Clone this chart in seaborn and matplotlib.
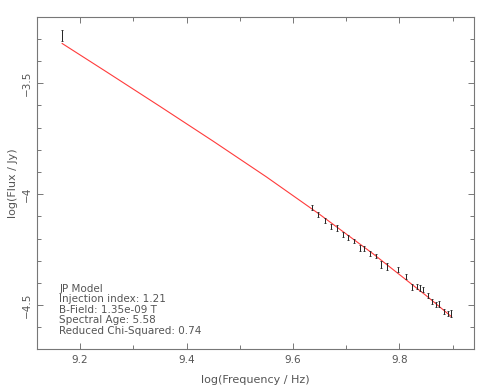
import matplotlib
matplotlib.use("Agg")
import matplotlib.pyplot as plt
import seaborn as sns
import pandas as pd
from matplotlib.ticker import MultipleLocator

# Data
obs_logfreq = [9.166, 9.636, 9.647, 9.660, 9.671, 9.683, 9.694, 9.704, 9.715, 9.725,
               9.734, 9.745, 9.756, 9.765, 9.776, 9.798, 9.813, 9.824, 9.833, 9.839,
               9.844, 9.853, 9.861, 9.869, 9.875, 9.883, 9.891, 9.897]
obs_logflux = [-3.285, -4.060, -4.093, -4.119, -4.146, -4.153, -4.182, -4.195, -4.212, -4.243,
               -4.245, -4.266, -4.279, -4.317, -4.326, -4.341, -4.372, -4.419, -4.416, -4.423,
               -4.430, -4.457, -4.484, -4.496, -4.496, -4.529, -4.538, -4.539]
obs_err = [0.024, 0.011, 0.012, 0.011, 0.011, 0.012, 0.013, 0.011, 0.010, 0.013,
           0.013, 0.011, 0.009, 0.015, 0.015, 0.011, 0.011, 0.015, 0.012, 0.015,
           0.013, 0.011, 0.012, 0.011, 0.013, 0.011, 0.013, 0.015]

model_logfreq = [9.166, 9.25, 9.35, 9.45, 9.55, 9.65, 9.75, 9.85, 9.898]
model_logflux = [-3.320, -3.449, -3.604, -3.761, -3.922, -4.091, -4.268, -4.457, -4.553]

info_lines = ["JP Model", "Injection index: 1.21", "B-Field: 1.35e-09 T",
              "Spectral Age: 5.58", "Reduced Chi-Squared: 0.74"]

sns.set_theme(style="white")
plt.rcParams['font.family'] = ['DejaVu Sans']

fig = plt.figure(figsize=(4.81, 3.91), dpi=100)
ax = fig.add_axes([37/481, 1-349/391, (474-37)/481, (349-17)/391])

model_df = pd.DataFrame({"x": model_logfreq, "y": model_logflux})
sns.lineplot(data=model_df, x="x", y="y", ax=ax, color="#ff3b3b", linewidth=0.8)

ax.errorbar(obs_logfreq, obs_logflux, yerr=obs_err, fmt="none", ecolor="#222222",
            elinewidth=0.7, capsize=1.0, capthick=0.6)

ax.set_xlim(9.119, 9.940)
ax.set_ylim(-4.698, -3.201)

text_col = "#555555"
frame_col = "#777777"
ax.xaxis.set_major_locator(MultipleLocator(0.2))
ax.xaxis.set_minor_locator(MultipleLocator(0.1))
ax.yaxis.set_major_locator(MultipleLocator(0.5))
ax.yaxis.set_minor_locator(MultipleLocator(0.1))
ax.tick_params(which="both", direction="in", top=True, right=True, left=True, bottom=True,
               color=frame_col, labelcolor=text_col, labelsize=7.5)
ax.tick_params(which="major", length=4, width=0.7)
ax.tick_params(which="minor", length=3, width=0.7)
ax.tick_params(axis="x", pad=4.5)
ax.set_yticks([-4.5, -4.0, -3.5])
ax.set_yticklabels(["\u22124.5", "\u22124", "\u22123.5"], rotation=90, va="center")
ax.set_xticks([9.2, 9.4, 9.6, 9.8])
ax.set_xticklabels(["9.2", "9.4", "9.6", "9.8"])

for sp in ax.spines.values():
    sp.set_color(frame_col)
    sp.set_linewidth(0.8)

ax.set_xlabel("log(Frequency / Hz)", fontsize=8, color=text_col, labelpad=7)
ax.set_ylabel("log(Flux / Jy)", fontsize=8, color=text_col, labelpad=3)

y0 = 289
for i, line in enumerate(info_lines):
    fig.text(59.5/481, 1-(y0 + i*10.4)/391, line, fontsize=7.5, color=text_col,
             ha="left", va="center")

fig.savefig("out.png", dpi=100)
